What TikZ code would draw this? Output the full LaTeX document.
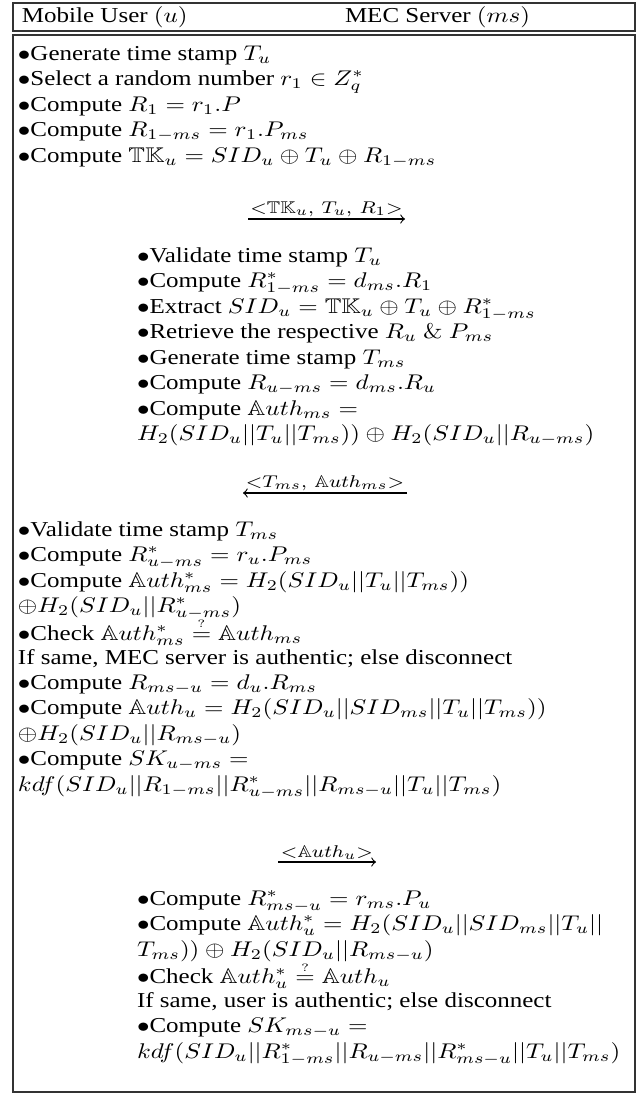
\documentclass[tikz,border=0pt]{standalone}
\usepackage{amssymb}
\usepackage[no-math]{fontspec}
\setmainfont{Liberation Serif}
\tikzset{
  ln/.style={anchor=base west, inner sep=0pt, outer sep=0pt, yscale=0.85, font=\fontsize{10}{12}\selectfont},
  lab/.style={anchor=south, inner sep=1pt, yscale=0.85, font=\fontsize{12}{14}\selectfont},
  boxline/.style={draw=black!80, line width=0.5pt},
  msg/.style={->, line width=0.45pt}
}
\newcommand{\bul}{$\bullet$}
\newcommand{\qeq}{\stackrel{\scriptscriptstyle ?}{=}}
\begin{document}
\begin{tikzpicture}[x=0.4pt, y=-0.4pt]
\useasboundingbox (0,0) rectangle (644,1094);
% boxes
\draw[boxline] (13,3) rectangle (635,31);
\draw[boxline] (13,35) rectangle (635,1092);
% header
\node[ln] (hu) at (22,22) {Mobile User $(u)$};
\node[ln] (hs) at (345,22) {MEC Server $(ms)$};
% block 1 (user)
\node[ln] (u1) at (18,60) {\bul Generate time stamp $T_u$};
\node[ln] (u2) at (18,85.5) {\bul Select a random number $r_1 \in Z_q^*$};
\node[ln] (u3) at (18,111) {\bul Compute $R_1 = r_1.P$};
\node[ln] (u4) at (18,136.5) {\bul Compute $R_{1-ms} = r_1.P_{ms}$};
\node[ln] (u5) at (18,162) {\bul Compute $\mathbb{TK}_u = SID_u \oplus T_u \oplus R_{1-ms}$};
% message 1
\coordinate (a1s) at (248,219);
\coordinate (a1e) at (405,219);
\draw[msg] (a1s) -- (a1e) node[lab, midway] (m1) {$\scriptstyle <\mathbb{TK}_u,\ T_u,\ R_1>$};
% block 2 (server)
\node[ln] (s1) at (137,262) {\bul Validate time stamp $T_u$};
\node[ln] (s2) at (137,287.5) {\bul Compute $R^*_{1-ms} = d_{ms}.R_1$};
\node[ln] (s3) at (137,313) {\bul Extract $SID_u = \mathbb{TK}_u \oplus T_u \oplus R^*_{1-ms}$};
\node[ln] (s4) at (137,338.5) {\bul Retrieve the respective $R_u\ \&\ P_{ms}$};
\node[ln] (s5) at (137,364) {\bul Generate time stamp $T_{ms}$};
\node[ln] (s6) at (137,389.5) {\bul Compute $R_{u-ms} = d_{ms}.R_u$};
\node[ln] (s7) at (137,415) {\bul Compute $\mathbb{A}uth_{ms} =$};
\node[ln] (s8) at (137,440.5) {$H_2(SID_u||T_u||T_{ms})) \oplus H_2(SID_u||R_{u-ms})$};
% message 2
\coordinate (a2s) at (407,493);
\coordinate (a2e) at (243,493);
\draw[msg] (a2s) -- (a2e) node[lab, midway] (m2) {$\scriptstyle <T_{ms},\ \mathbb{A}uth_{ms}>$};
% block 3 (user)
\node[ln] (v1) at (18,536) {\bul Validate time stamp $T_{ms}$};
\node[ln] (v2) at (18,561.5) {\bul Compute $R^*_{u-ms} = r_u.P_{ms}$};
\node[ln] (v3) at (18,587) {\bul Compute $\mathbb{A}uth^*_{ms} = H_2(SID_u||T_u||T_{ms}))$};
\node[ln] (v4) at (18,612.5) {$\oplus H_2(SID_u||R^*_{u-ms})$};
\node[ln] (v5) at (18,640) {\bul Check $\mathbb{A}uth^*_{ms} \qeq \mathbb{A}uth_{ms}$};
\node[ln] (v6) at (18,664) {If same, MEC server is authentic; else disconnect};
\node[ln] (v7) at (18,689) {\bul Compute $R_{ms-u} = d_u.R_{ms}$};
\node[ln] (v8) at (18,714.5) {\bul Compute $\mathbb{A}uth_u = H_2(SID_u||SID_{ms}||T_u||T_{ms}))$};
\node[ln] (v9) at (18,740) {$\oplus H_2(SID_u||R_{ms-u})$};
\node[ln] (v10) at (18,765.5) {\bul Compute $SK_{u-ms} =$};
\node[ln] (v11) at (18,791) {$kdf(SID_u||R_{1-ms}||R^*_{u-ms}||R_{ms-u}||T_u||T_{ms})$};
% message 3
\coordinate (a3s) at (278,862);
\coordinate (a3e) at (376,862);
\draw[msg] (a3s) -- (a3e) node[lab, midway] (m3) {$\scriptstyle <\mathbb{A}uth_u>$};
% block 4 (server)
\node[ln] (w1) at (137,905) {\bul Compute $R^*_{ms-u} = r_{ms}.P_u$};
\node[ln] (w2) at (137,930.5) {\bul Compute $\mathbb{A}uth^*_u = H_2(SID_u||SID_{ms}||T_u||$};
\node[ln] (w3) at (137,956) {$T_{ms})) \oplus H_2(SID_u||R_{ms-u})$};
\node[ln] (w4) at (137,983.5) {\bul Check $\mathbb{A}uth^*_u \qeq \mathbb{A}uth_u$};
\node[ln] (w5) at (137,1007.5) {If same, user is authentic; else disconnect};
\node[ln] (w6) at (137,1032.5) {\bul Compute $SK_{ms-u} =$};
\node[ln] (w7) at (137,1058) {$kdf(SID_u||R^*_{1-ms}||R_{u-ms}||R^*_{ms-u}||T_u||T_{ms})$};
\end{tikzpicture}
\end{document}
